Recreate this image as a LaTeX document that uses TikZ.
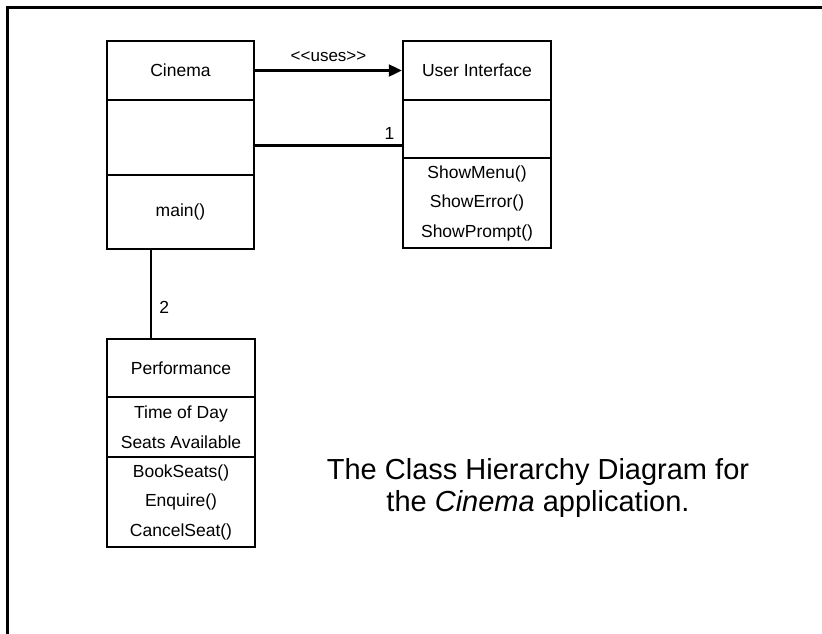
\documentclass[tikz,border=0pt]{standalone}
\usepackage{fontspec}
\setmainfont{Liberation Sans}
\usepackage{tikz}
\usetikzlibrary{arrows.meta, positioning}
\tikzset{>={Triangle[length=13pt,width=12pt]}}
\tikzset{
  part/.style={rectangle,draw,line width=2.4pt,inner sep=0pt,align=center,
    font=\fontsize{17.5}{29.5}\selectfont},
  wire/.style={line width=2.2pt}
}

\begin{document}
\begin{tikzpicture}[x=1pt,y=-1pt]
      \useasboundingbox (0,0) rectangle (822,633);
      \draw[line width=3pt] (7,640) -- (7,7) -- (830,7);
      % Cinema
      \node (c1) at (180.5,70.5)[part,minimum width=147pt,minimum height=59pt] {Cinema};
      \node (c2) at (180.5,137.5)[part,minimum width=147pt,minimum height=75pt] {};
      \node (c3) at (180.5,212)[part,minimum width=147pt,minimum height=74pt] {main()};
      % User Interface
      \node (u1) at (477,70.5)[part,minimum width=148pt,minimum height=59pt] {User Interface};
      \node (u2) at (477,129)[part,minimum width=148pt,minimum height=58pt] {};
      \node (u3) at (477,203)[part,minimum width=148pt,minimum height=90pt]
      {ShowMenu()\\ShowError()\\ShowPrompt()};
      % Performance
      \node (p1) at (181,368)[part,minimum width=148pt,minimum height=58pt] {Performance};
      \node (p2) at (181,427)[part,minimum width=148pt,minimum height=60pt]
      {Time of Day\\Seats Available};
      \node (p3) at (181,502)[part,minimum width=148pt,minimum height=90pt]
      {BookSeats()\\Enquire()\\CancelSeat()};
        \draw [wire,->] (c1.east) -- node[above=4pt,font=\fontsize{17}{18}\selectfont] {<{}<uses>{}>} (u1.west);
        \draw [wire] ([yshift=-8pt]c2.east) -- ([yshift=-8pt]c2.east -| u2.west)
          node[above left=2pt and 3pt,font=\fontsize{17.5}{19}\selectfont] {1};
        \draw [wire] ([xshift=-29.5pt]c3.south) -- ([xshift=-29.5pt]c3.south |- p1.north)
          node[pos=0.65,right=4pt,font=\fontsize{17.5}{19}\selectfont] {2};
      % caption
      \node (cap) at (538,488)[align=center,font=\fontsize{29}{32}\selectfont]
      {The Class Hierarchy Diagram for\\the \emph{Cinema} application.};
        
        \end{tikzpicture}
\end{document}
